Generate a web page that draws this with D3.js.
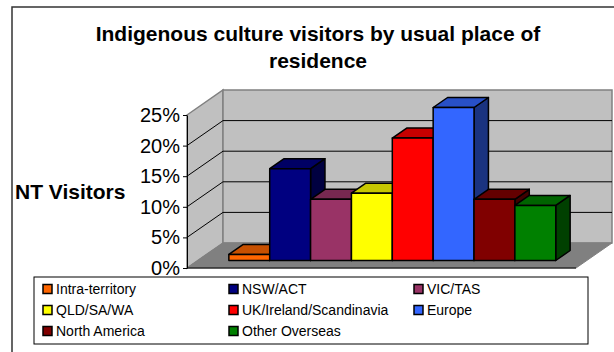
<!DOCTYPE html>
<html>
<head>
<meta charset="UTF-8">
<title>Indigenous culture visitors</title>
<script src="https://d3js.org/d3.v7.min.js"></script>
<style>
  body { margin: 0; background: #fff; }
  text { font-family: "Liberation Sans", Arial, sans-serif; }
</style>
</head>
<body>
<div id="chart"></div>
<script>
// data (percent of NT visitors)
var categories = ["Intra-territory", "NSW/ACT", "VIC/TAS", "QLD/SA/WA",
                  "UK/Ireland/Scandinavia", "Europe", "North America", "Other Overseas"];
var values = [1, 15, 10, 11, 20, 25, 10, 9];
var yTicks = [0, 5, 10, 15, 20, 25];
var titleLines = ["Indigenous culture visitors by usual place of", "residence"];
var palette = ["#FF6600", "#000080", "#993366", "#FFFF00", "#FF0000", "#3366FF", "#800000", "#008000"];

var W = 614, H = 352;
var plotL = 187, plotR = 576, plotB = 268, plotT = 115;
var DX = 36, DY = -25;         // full depth of the plot box
var t0 = 0.3, t1 = 0.7;        // depth of bar front / back

var svg = d3.select("#chart").append("svg")
  .attr("width", W).attr("height", H);

// outer chart frame
svg.append("rect")
  .attr("x", 12).attr("y", 7).attr("width", W).attr("height", H)
  .attr("fill", "#fff").attr("stroke", "#333").attr("stroke-width", 1.5);

var x = d3.scaleBand().domain(categories).range([plotL, plotR])
  .paddingInner(0).paddingOuter(0.76);
var y = d3.scaleLinear().domain([0, 25]).range([plotB, plotT]);
var color = d3.scaleOrdinal(categories, palette);

function shade(c, k) {
  var r = d3.rgb(c);
  return d3.rgb(r.r * k, r.g * k, r.b * k).formatHex();
}
function pts(a) { return a.map(function(p) { return p.join(","); }).join(" "); }

// walls and floor
svg.append("polygon")
  .attr("points", pts([[plotL, y(25)], [plotL + DX, y(25) + DY], [plotL + DX, plotB + DY], [plotL, plotB]]))
  .attr("fill", "#C0C0C0").attr("stroke", "#808080").attr("stroke-width", 1.5);
svg.append("rect")
  .attr("x", plotL + DX).attr("y", y(25) + DY)
  .attr("width", plotR - plotL).attr("height", plotB - y(25))
  .attr("fill", "#C0C0C0").attr("stroke", "#808080").attr("stroke-width", 1.5);
svg.append("polygon")
  .attr("points", pts([[plotL, plotB], [plotL + DX, plotB + DY], [plotR + DX, plotB + DY], [plotR, plotB]]))
  .attr("fill", "#808080").attr("stroke", "#808080").attr("stroke-width", 1);

// gridlines on side and back wall
svg.append("g").selectAll("polyline")
  .data(yTicks.filter(function(d) { return d > 0 && d < 25; }))
  .join("polyline")
  .attr("points", function(d) {
    return pts([[plotL, y(d)], [plotL + DX, y(d) + DY], [plotR + DX, y(d) + DY]]);
  })
  .attr("fill", "none").attr("stroke", "#000").attr("stroke-width", 1);

// bars, left to right so each covers the previous side face
var bars = svg.append("g").selectAll("g")
  .data(categories.map(function(c, i) { return { name: c, value: values[i] }; }))
  .join("g");

var fx = DX * t0, fy = DY * t0, bx = DX * (t1 - t0), by = DY * (t1 - t0);
bars.each(function(d) {
  var g = d3.select(this);
  var x0 = x(d.name) + fx, x1 = x0 + x.bandwidth();
  var yb = y(0) + fy, yt = y(d.value) + fy;
  var c = color(d.name);
  var outline = function(s) {
    return s.attr("stroke", "#000").attr("stroke-width", 1.5).attr("stroke-linejoin", "round");
  };
  outline(g.append("polygon")
    .attr("points", pts([[x1, yt], [x1 + bx, yt + by], [x1 + bx, yb + by], [x1, yb]]))
    .attr("fill", shade(c, 0.5)));
  outline(g.append("polygon")
    .attr("points", pts([[x0, yt], [x0 + bx, yt + by], [x1 + bx, yt + by], [x1, yt]]))
    .attr("fill", shade(c, 0.78)));
  outline(g.append("rect")
    .attr("x", x0).attr("y", yt).attr("width", x1 - x0).attr("height", yb - yt)
    .attr("fill", c));
});

// front floor edge
svg.append("line")
  .attr("x1", plotL).attr("x2", plotR).attr("y1", plotB).attr("y2", plotB)
  .attr("stroke", "#000").attr("stroke-width", 1);

// y axis
var yAxis = svg.append("g")
  .attr("transform", "translate(" + plotL + ",0)")
  .call(d3.axisLeft(y).tickValues(yTicks).tickFormat(function(d) { return d + "%"; })
    .tickSize(4).tickSizeOuter(0));
yAxis.select(".domain").attr("stroke", "#000");
yAxis.selectAll(".tick line").attr("stroke", "#000");
yAxis.selectAll(".tick text")
  .attr("font-size", 20).attr("fill", "#000").attr("font-family", "Liberation Sans, Arial, sans-serif");

// titles
svg.append("g").selectAll("text")
  .data(titleLines).join("text")
  .attr("x", 318).attr("y", function(d, i) { return 41 + i * 27; })
  .attr("text-anchor", "middle")
  .attr("font-size", 21).attr("font-weight", "bold")
  .text(function(d) { return d; });

svg.append("text")
  .attr("x", 15).attr("y", 199)
  .attr("font-size", 21).attr("font-weight", "bold")
  .text("NT Visitors");

// legend
var legend = svg.append("g");
legend.append("rect")
  .attr("x", 34).attr("y", 277).attr("width", 554).attr("height", 67)
  .attr("fill", "#fff").attr("stroke", "#000").attr("stroke-width", 1);

var colX = [43, 229, 414], rowY = [289, 310, 331];
var items = legend.selectAll("g.item")
  .data(categories).join("g")
  .attr("class", "item")
  .attr("transform", function(d, i) {
    return "translate(" + colX[i % 3] + "," + rowY[Math.floor(i / 3)] + ")";
  });
items.append("rect")
  .attr("x", 0).attr("y", -4.5).attr("width", 9).attr("height", 9)
  .attr("fill", function(d) { return color(d); })
  .attr("stroke", "#000").attr("stroke-width", 1.5);
items.append("text")
  .attr("x", 13).attr("y", 5)
  .attr("font-size", 14)
  .text(function(d) { return d; });
</script>
</body>
</html>
